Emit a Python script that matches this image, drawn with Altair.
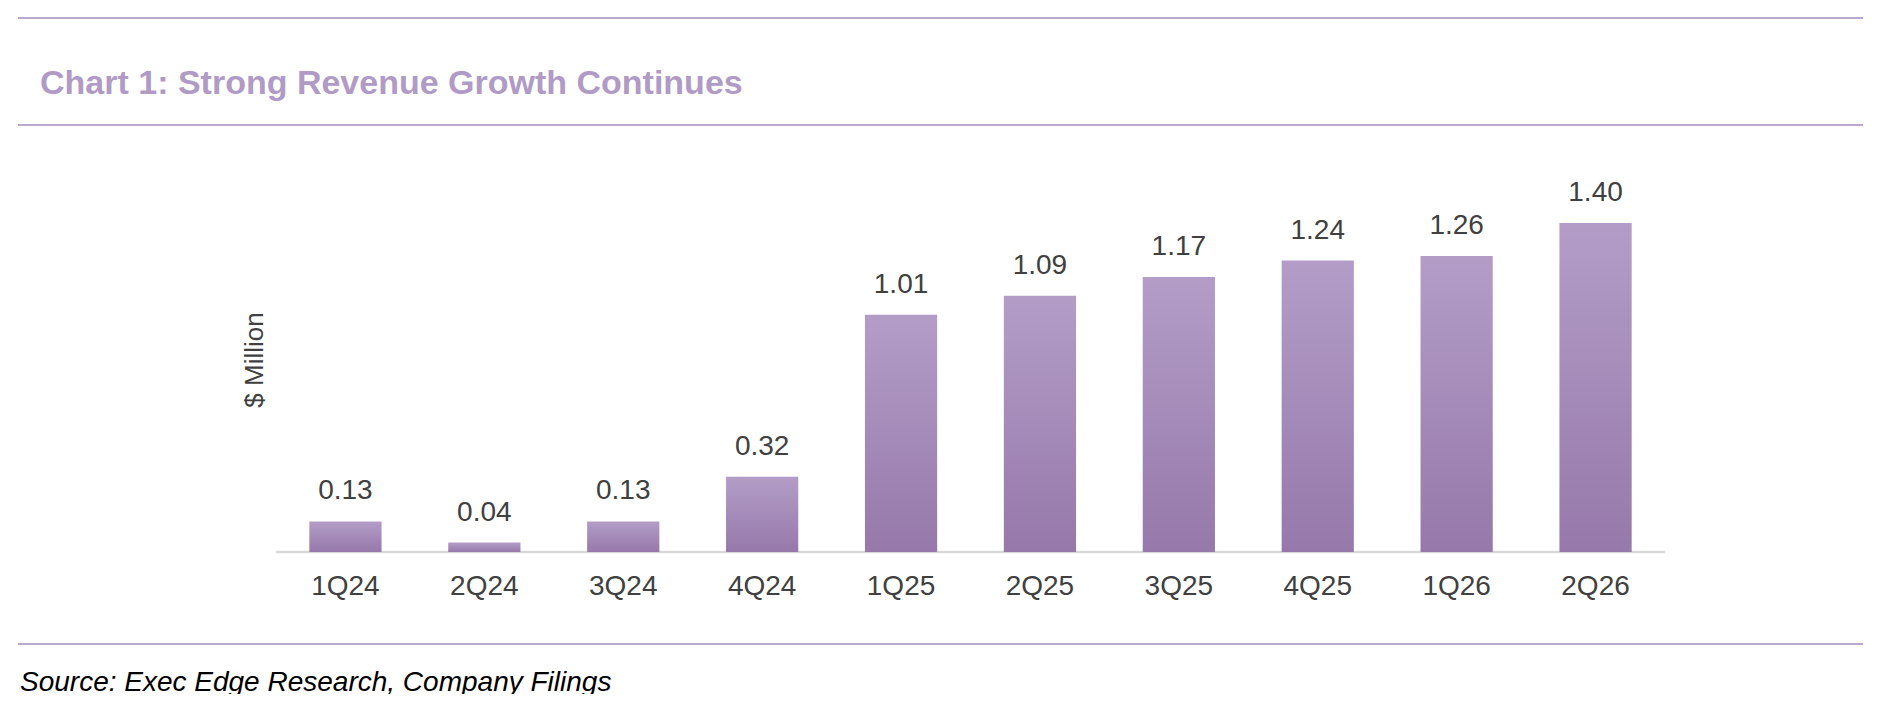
import altair as alt
import pandas as pd

quarters = ["1Q24","2Q24","3Q24","4Q24","1Q25","2Q25","3Q25","4Q25","1Q26","2Q26"]
revenue = [0.13,0.04,0.13,0.32,1.01,1.09,1.17,1.24,1.26,1.40]
title_text = "Chart 1: Strong Revenue Growth Continues"
source_text = "Source: Exec Edge Research, Company Filings"
y_title = "$ Million"

df = pd.DataFrame({"q": quarters, "v": revenue})
one = alt.Data(values=[{"a": 1}])
FONT = "Liberation Sans"
LINE = "#a58cbc"

x = alt.X("q:N", sort=quarters, axis=None,
          scale=alt.Scale(range=[268, 1657], paddingInner=0.48, paddingOuter=0.24))
y = alt.Y("v:Q", axis=None, scale=alt.Scale(domain=[0, 1.40], range=[544, 215]))

grad = alt.Gradient(gradient="linear", x1=0, y1=0, x2=0, y2=1,
                    stops=[alt.GradientStop(color="#b39dc7", offset=0),
                           alt.GradientStop(color="#9679aa", offset=1)])

base = alt.Chart(df)
bars = base.mark_bar(fill=grad, clip=False).encode(x=x, y=y)
vals = base.mark_text(font=FONT, fontSize=28, color="#404040", dy=-30, clip=False).encode(
    x=x, y=y, text=alt.Text("v:Q", format=".2f"))
xlab = base.mark_text(font=FONT, fontSize=28, color="#404040", clip=False).encode(
    x=x, y=alt.value(579), text="q:N")

def rule(x1, x2, yy, color, w):
    return alt.Chart(one).mark_rule(color=color, strokeWidth=w, clip=False).encode(
        x=alt.value(x1), x2=alt.value(x2), y=alt.value(yy))

def txt(t, xx, yy, **kw):
    return alt.Chart(one).mark_text(text=t, font=FONT, clip=False, **kw).encode(
        x=alt.value(xx), y=alt.value(yy))

chart = alt.layer(
    rule(10, 1855, 10, LINE, 1.5),
    rule(10, 1855, 117, LINE, 1.5),
    rule(10, 1855, 636, LINE, 1.5),
    rule(268, 1657, 544, "#d9d9d9", 2.5),
    bars, vals, xlab,
    txt(title_text, 32, 76, fontSize=34, fontWeight="bold", color="#b09ac6", align="left"),
    txt(source_text, 12, 675, fontSize=28, fontStyle="italic", color="#000000", align="left"),
    txt(y_title, 247, 352, fontSize=26, color="#404040", angle=270),
).properties(width=1863, height=686, autosize=alt.AutoSizeParams(type="none"), padding=0
).configure_view(stroke=None)

chart.save("out.html", embed_options={"renderer": "svg", "actions": False})
